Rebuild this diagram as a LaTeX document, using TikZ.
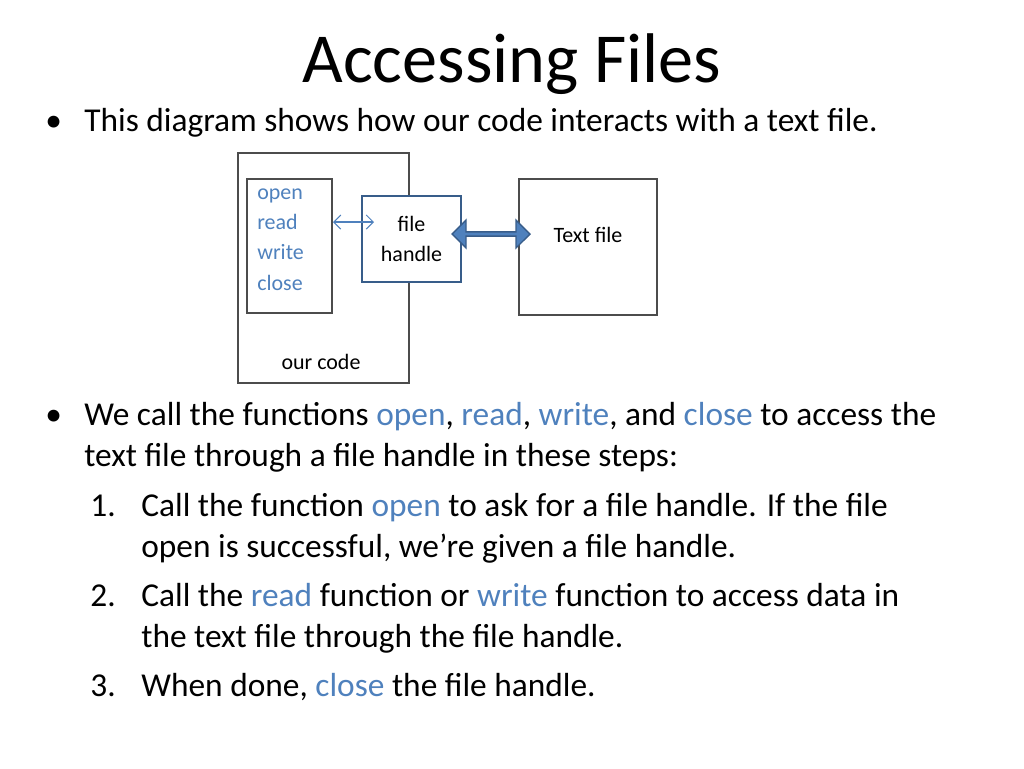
\documentclass[tikz,border=0pt]{standalone}
\usepackage{fontspec}
\setmainfont{Carlito}
\usetikzlibrary{arrows.meta,shapes.arrows}
\definecolor{fnblue}{RGB}{79,129,189}
\definecolor{edgeblue}{RGB}{56,93,138}
\tikzset{
  line/.style={anchor=base west,inner sep=0pt,font=\fontsize{19}{23}\selectfont},
  small/.style={font=\fontsize{12.5}{15}\selectfont,inner sep=0pt},
  box/.style={draw=black!70,line width=0.6pt}
}
\newcommand{\fn}[1]{\textcolor{fnblue}{#1}}
\begin{document}
\begin{tikzpicture}[x=0.02cm,y=-0.02cm]
	\useasboundingbox (0,0) rectangle (1024,768);
	% title
	\node[anchor=base,inner sep=0pt,font=\fontsize{40}{46}\selectfont] (title) at (512,82) {Accessing Files};
	\node[line] (b1) at (45,131) {\textbullet};
	\node[line] (l1) at (84,131) {This diagram shows how our code interacts with a text file.};
	
	% diagram
	\draw[box] (238,153) rectangle (409,383);
	\node[small,anchor=base] (code) at (321,369) {our code};
	\draw[box] (247,179) rectangle (332,313);
	\node[small,anchor=north west,align=left,text=fnblue,font=\fontsize{12.5}{17.3}\selectfont] (funcs) at (257,188) {open\\read\\write\\close};
	\node[small,draw=edgeblue,line width=1.3pt,fill=white,minimum width=99\pgflinewidth,align=center,
	      minimum width=1.98cm,minimum height=1.72cm,font=\fontsize{12.5}{17.3}\selectfont] (handle) at (411.5,239) {file\\handle};
	\node[box,minimum width=2.76cm,minimum height=2.72cm,inner sep=0pt] (textfile) at (588,247) {};
	\node[small] (tflabel) at (588,235) {Text file};
	\coordinate (fl) at (333,222);
	\coordinate (fr) at (374,222);
	\draw[fnblue,{Straight Barb[length=4pt]}-{Straight Barb[length=4pt]},line width=0.6pt] (fl) -- (fr);
	\node[double arrow,draw=edgeblue,fill=fnblue,line width=0.8pt,minimum height=1.56cm,minimum width=0.56cm,
	      double arrow head extend=0.08cm,inner sep=0pt,double arrow head indent=0pt] (link) at (491,234) {};
	
	% body text
	\node[line] (b2) at (45,425) {\textbullet};
	\node[line] (l2) at (84,425) {We call the functions \fn{open}, \fn{read}, \fn{write}, and \fn{close} to access the};
	\node[line] (l3) at (84,466) {text file through a file handle in these steps:};
	\node[line] (n1) at (90,516) {1.};
	\node[line] (l4) at (141,516) {Call the function \fn{open} to ask for a file handle. If the file};
	\node[line] (l5) at (141,557) {open is successful, we’re given a file handle.};
	\node[line] (n2) at (90,606) {2.};
	\node[line] (l6) at (141,606) {Call the \fn{read} function or \fn{write} function to access data in};
	\node[line] (l7) at (141,647) {the text file through the file handle.};
	\node[line] (n3) at (90,696) {3.};
	\node[line] (l8) at (141,696) {When done, \fn{close} the file handle.};
\end{tikzpicture}
\end{document}
